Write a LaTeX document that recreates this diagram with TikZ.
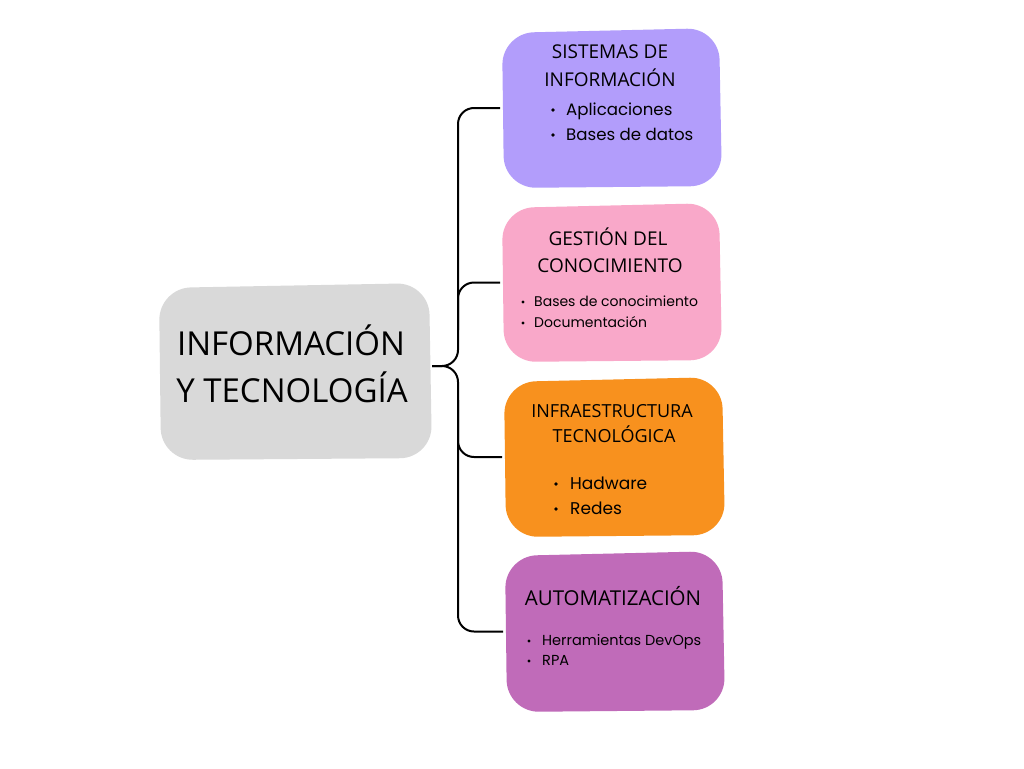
\documentclass[tikz,border=0pt]{standalone}
\usepackage{fontspec}
\setmainfont{Open Sans}
\newfontfamily\popf{Poppins}
\usetikzlibrary{calc}
\definecolor{cpurple}{RGB}{178,157,251}
\definecolor{cpink}{RGB}{249,168,201}
\definecolor{corange}{RGB}{248,145,30}
\definecolor{cmagenta}{RGB}{192,107,185}
\definecolor{cgray}{RGB}{217,217,217}
\newcommand\blobfill[2]{\fill[#2, rounded corners=32pt] ($(#1.north west)+(2,5)$) -- ($(#1.north east)+(-3,0)$) -- ($(#1.south east)+(0,-2)$) -- ($(#1.south west)+(4,0)$) -- cycle;}
\tikzset{
  box/.style={inner sep=0pt, outer sep=0pt, rectangle},
  ttl/.style={anchor=base, inner sep=0pt, text=black},
  itm/.style={anchor=base west, inner sep=0pt, text=black},
  conn/.style={draw=black, line width=2pt, rounded corners=16pt},
  dot/.style={fill=black}
}
\begin{document}
\begin{tikzpicture}[x=1pt,y=-1pt]
\useasboundingbox (0,0) rectangle (1024,768);
\fill[white] (0,0) rectangle (1024,768);
% box placeholders
\node[box, minimum width=275pt, minimum height=177pt] (root) at (294.5,371.5) {};
\node[box, minimum width=222pt, minimum height=160pt] (b1) at (611,108) {};
\node[box, minimum width=222pt, minimum height=159pt] (b2) at (611,282.5) {};
\node[box, minimum width=223pt, minimum height=160pt] (b3) at (613.5,457) {};
\node[box, minimum width=222pt, minimum height=161pt] (b4) at (614,631.5) {};
\blobfill{root}{cgray}
\blobfill{b1}{cpurple}
\blobfill{b2}{cpink}
\blobfill{b3}{corange}
\blobfill{b4}{cmagenta}
% connectors
\coordinate (spine) at (458,366);
\coordinate (s2) at (458,330);
\coordinate (s3) at (458,400);
\draw[conn] (root.east |- spine) -- (spine) |- (b1.west);
\draw[conn] (root.east |- spine) -- (spine) |- (b4.west);
\draw[conn] (s2) |- (b2.west);
\draw[conn] (s3) |- (b3.west);
% root text
\node[ttl, font=\fontsize{33}{33}\selectfont] (r1) at (291,355) {INFORMACIÓN};
\node[ttl, font=\fontsize{33}{33}\selectfont] (r2) at (292,402) {Y TECNOLOGÍA};
% box 1
\node[ttl, font=\fontsize{19}{19}\selectfont] (t1a) at (610,59) {SISTEMAS DE};
\node[ttl, font=\fontsize{19}{19}\selectfont] (t1b) at (610,86) {INFORMACIÓN};
\node[itm, font=\popf\fontsize{16.6}{16.6}\selectfont] (i1a) at (566,115) {Aplicaciones};
\node[itm, font=\popf\fontsize{16.6}{16.6}\selectfont] (i1b) at (566,140) {Bases de datos};
\fill[dot] (553,110) circle (1.8);
\fill[dot] (553,135) circle (1.8);
% box 2
\node[ttl, font=\fontsize{19}{19}\selectfont] (t2a) at (608,245) {GESTIÓN DEL};
\node[ttl, font=\fontsize{19}{19}\selectfont] (t2b) at (610,272) {CONOCIMIENTO};
\node[itm, font=\popf\fontsize{14}{14}\selectfont] (i2a) at (534,306) {Bases de conocimiento};
\node[itm, font=\popf\fontsize{14}{14}\selectfont] (i2b) at (534,327) {Documentación};
\fill[dot] (523,302) circle (1.6);
\fill[dot] (523,323) circle (1.6);
% box 3
\node[ttl, font=\fontsize{18}{18}\selectfont] (t3a) at (612,417) {INFRAESTRUCTURA};
\node[ttl, font=\fontsize{18}{18}\selectfont] (t3b) at (614,442) {TECNOLÓGICA};
\node[itm, font=\popf\fontsize{17}{17}\selectfont] (i3a) at (570,489) {Hadware};
\node[itm, font=\popf\fontsize{17}{17}\selectfont] (i3b) at (570,514) {Redes};
\fill[dot] (556,484) circle (1.8);
\fill[dot] (556,509) circle (1.8);
% box 4
\node[ttl, font=\fontsize{20.5}{20.5}\selectfont] (t4a) at (613,605) {AUTOMATIZACIÓN};
\node[itm, font=\popf\fontsize{14.5}{14.5}\selectfont] (i4a) at (542,645) {Herramientas DevOps};
\node[itm, font=\popf\fontsize{14.5}{14.5}\selectfont] (i4b) at (542,665) {RPA};
\fill[dot] (529,641) circle (1.6);
\fill[dot] (529,661) circle (1.6);
\end{tikzpicture}
\end{document}
